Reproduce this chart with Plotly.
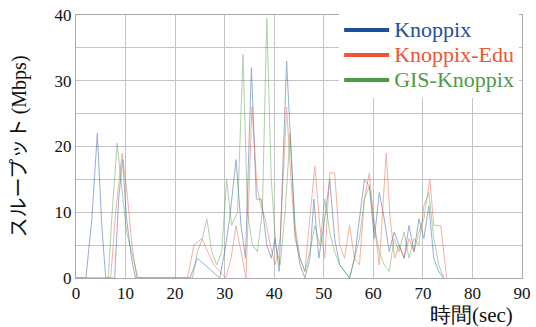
import plotly.graph_objects as go

# Knoppix (blue)
t_knoppix = [0, 2.0, 3.2, 4.3, 5.2, 6.0, 7.0, 7.8, 8.6, 9.4, 10.2, 11.2, 12.0,
             23.0, 24.5, 26.0, 27.5, 29.0, 30.0, 31.0,
             32.3, 33.3, 34.2, 35.4, 36.4, 37.4, 38.5, 39.4, 40.2, 41.0,
             42.5, 43.3, 44.2, 45.2, 46.2, 47.2, 48.0, 49.0, 50.0, 51.2,
             52.2, 53.2, 54.2, 55.2, 56.2, 57.2, 58.2, 59.2, 60.2, 61.2,
             62.2, 63.2, 64.2, 65.2, 66.2, 67.2, 68.2, 69.2, 70.2, 71.2,
             72.2, 73.2, 74.2]
v_knoppix = [0, 0, 9, 22, 8, 0, 0, 0, 12, 18, 9, 3, 0,
             0, 3, 2, 1, 0, 4, 9,
             18, 8, 3, 32, 12, 12, 5, 3, 6, 1,
             33, 20, 7, 2, 0, 3, 12, 3, 8, 15,
             6, 2, 1, 0, 3, 9, 15, 14, 6, 13,
             9, 4, 7, 5, 3, 8, 4, 9, 6, 11,
             3, 1, 0]

# Knoppix-Edu (red)
t_edu = [0, 7.0, 8.0, 9.3, 10.3, 11.3, 12.3,
         22.5, 23.8, 25.4, 26.6, 27.8, 29.0, 30.2, 31.3, 32.3, 33.3,
         34.3, 35.5, 36.5, 37.3, 38.2, 39.2, 40.2, 41.2, 42.5, 43.3,
         44.2, 45.2, 46.2, 47.3, 48.2, 49.2, 50.2, 51.2, 52.2, 53.2,
         54.2, 55.2, 56.2, 57.2, 58.2, 59.2, 60.2, 61.2, 62.6, 63.4,
         64.3, 65.2, 66.2, 67.2, 68.2, 69.2, 70.2, 71.4, 72.2, 73.6,
         74.8]
v_edu = [0, 0, 10, 19, 13, 5, 0,
         0, 5, 6, 4, 2, 1, 0, 3, 8, 4,
         0, 26, 14, 11, 9, 5, 2, 6, 26, 16,
         6, 3, 1, 10, 17, 8, 3, 16, 16, 5,
         3, 8, 3, 2, 12, 16, 8, 2, 19, 9,
         3, 5, 3, 6, 4, 7, 9, 15, 8, 8,
         0]

# GIS-Knoppix (green)
t_gis = [0, 6.5, 7.3, 8.3, 9.2, 10.2, 11.2, 12.5,
         23.5, 24.5, 25.5, 26.4, 27.4, 28.4, 29.4, 30.4, 31.4, 32.6,
         33.7, 34.6, 35.6, 36.6, 37.6, 38.5, 39.4, 40.3, 41.2, 42.2,
         43.2, 44.2, 45.2, 46.2, 47.2, 48.2, 49.2, 50.2, 51.2, 52.2,
         53.2, 54.2, 55.2, 56.2, 57.2, 58.2, 59.2, 60.2, 61.2, 62.2,
         63.2, 64.2, 65.2, 66.2, 67.2, 68.2, 69.2, 70.2, 71.2, 72.2,
         73.2, 74.2]
v_gis = [0, 0, 10, 20.5, 14, 7, 4, 0,
         0, 4, 6, 9, 4, 2, 4, 15, 8, 10,
         34, 10, 5, 4, 10, 39.5, 15, 5, 2, 10,
         22, 8, 3, 1, 4, 8, 5, 12, 7, 4,
         2, 1, 0, 3, 6, 12, 14, 8, 4, 2,
         1, 6, 4, 7, 3, 6, 5, 11, 13, 6,
         2, 0]

series_names = ["Knoppix", "Knoppix-Edu", "GIS-Knoppix"]
x_ticks = [0, 10, 20, 30, 40, 50, 60, 70, 80, 90]
y_ticks = [0, 10, 20, 30, 40]

colors = ["#1d4f9e", "#ee5533", "#4f9a45"]
data = [(t_knoppix, v_knoppix), (t_edu, v_edu), (t_gis, v_gis)]

fig = go.Figure()
for (t, v), c in zip(data, colors):
    fig.add_trace(go.Scatter(x=t, y=v, mode="lines", line=dict(color=c, width=1),
                             opacity=0.45, showlegend=False, hoverinfo="skip"))
for name, c in zip(series_names, colors):
    fig.add_trace(go.Scatter(x=[None], y=[None], mode="lines",
                             line=dict(color=c, width=4),
                             name=f"<span style='color:{c};font-size:22px'>{name}</span>"))

serif = "Times New Roman, Liberation Serif, DejaVu Serif, serif"
grid = "#c4c4c4"
fig.update_layout(
    width=536, height=327,
    margin=dict(l=76, r=14, t=15, b=49, autoexpand=False),
    paper_bgcolor="white", plot_bgcolor="white",
    font=dict(family=serif, size=17, color="#111"),
    showlegend=True,
    legend=dict(x=0.59, y=1.01, xanchor="left", yanchor="top",
                bgcolor="white", borderwidth=0,
                font=dict(family=serif, size=17),
                tracegroupgap=0, itemwidth=45),
    xaxis=dict(range=[0, 90], tickvals=x_ticks, showgrid=True, gridcolor=grid,
               gridwidth=1, showline=True, linecolor="#aaaaaa", mirror=True,
               automargin=False,
               zeroline=False, ticks="", tickfont=dict(family=serif, size=17)),
    yaxis=dict(range=[0, 40], tickvals=y_ticks, showgrid=True, gridcolor=grid,
               gridwidth=1, showline=True, linecolor="#aaaaaa", mirror=True,
               automargin=False,
               zeroline=False, ticks="", tickfont=dict(family=serif, size=17),
               minor=dict(dtick=5, showgrid=True, gridcolor=grid, gridwidth=1),
               title=dict(text="スループット <span style='font-family:Times New Roman'>(Mbps)</span>",
                          font=dict(family="Noto Sans CJK JP", size=20), standoff=22)),
)
fig.add_annotation(text="時間(sec)", xref="paper", yref="paper", x=0.985, y=-0.141,
                   xanchor="right", yanchor="middle", showarrow=False,
                   font=dict(family=serif, size=21))
fig.write_html("out.html", config={"displayModeBar": False},
               post_script="document.body.style.margin='0';document.body.style.padding='0';")
